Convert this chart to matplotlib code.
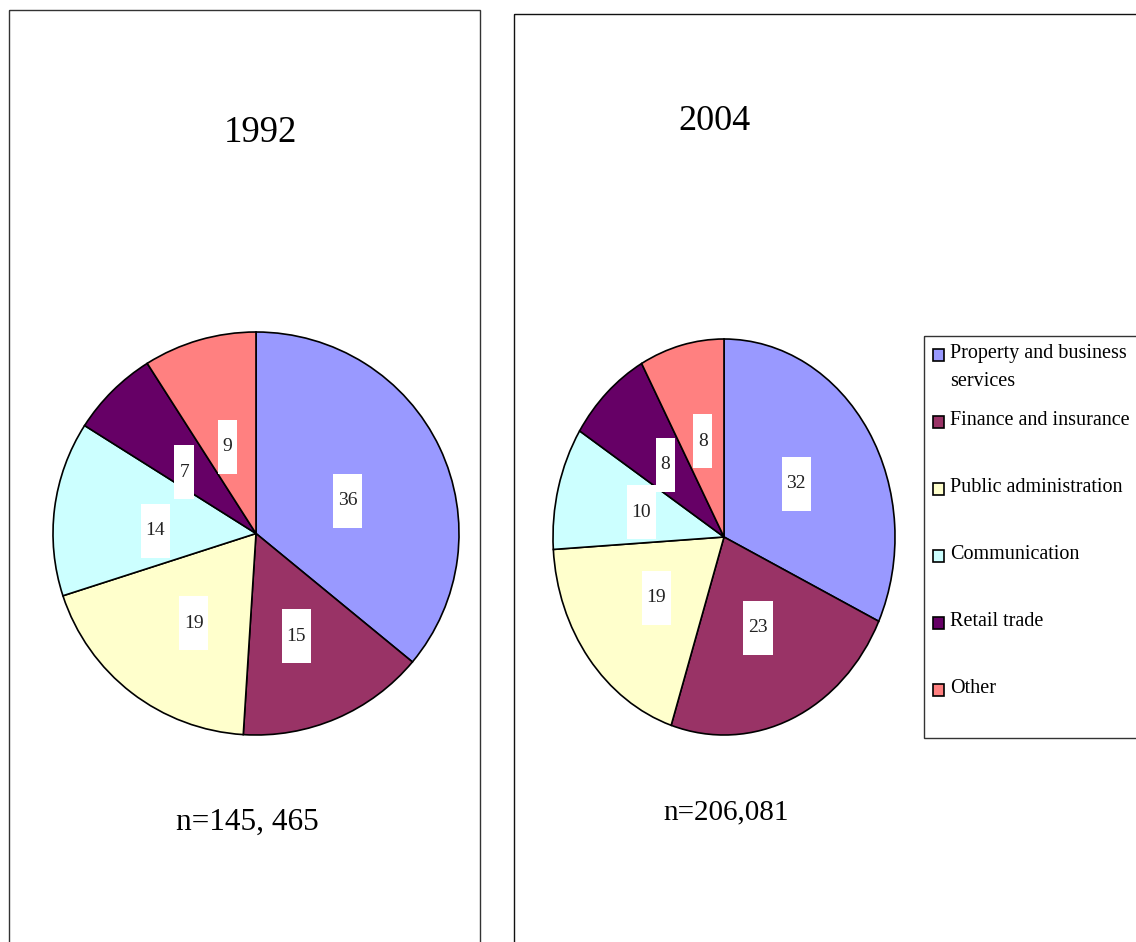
import numpy as np
import matplotlib
matplotlib.use("Agg")
import matplotlib.pyplot as plt
from matplotlib.patches import Rectangle

plt.rcParams['font.family'] = ['Liberation Serif', 'DejaVu Serif']

# data
categories = ["Property and business\nservices", "Finance and insurance",
              "Public administration", "Communication", "Retail trade", "Other"]
colors = ["#9999FF", "#993366", "#FFFFCC", "#CCFFFF", "#660066", "#FF8080"]
share_1992 = [36, 15, 19, 14, 7, 9]
share_2004 = [32, 23, 19, 10, 8, 8]
years = ["1992", "2004"]
totals = ["n=145, 465", "n=206,081"]

W, H = 1136, 942
fig = plt.figure(figsize=(W / 100, H / 100), dpi=100)

# background axes in pixel coordinates
bg = fig.add_axes([0, 0, 1, 1])
bg.set_xlim(0, W)
bg.set_ylim(H, 0)
bg.axis("off")

# panel frames
bg.add_patch(Rectangle((9, 10), 471, 960, fill=False, edgecolor="#333333", lw=1))
bg.add_patch(Rectangle((514, 14), 700, 960, fill=False, edgecolor="#111111", lw=1))


def pie_axes(x0, x1, y0, y1):
    return fig.add_axes([x0 / W, (H - y1) / H, (x1 - x0) / W, (y1 - y0) / H])


def draw_pie(ax, values, dy=0.0):
    wedges, _ = ax.pie(values, colors=colors, startangle=90, counterclock=False,
                       radius=1, wedgeprops=dict(edgecolor="black", linewidth=1.2))
    ax.set_aspect("auto")
    ax.set_xlim(-1, 1)
    ax.set_ylim(-1, 1)
    ax.axis("off")
    for w, v in zip(wedges, values):
        w.set_clip_on(False)
        ang = np.deg2rad((w.theta1 + w.theta2) / 2)
        ax.text(0.5 * np.cos(ang), 0.5 * np.sin(ang) + dy, "\n%d\n" % v,
                ha="center", va="center", fontsize=14, linespacing=0.75,
                color="#222222",
                bbox=dict(boxstyle="square,pad=0.25", facecolor="white", edgecolor="none"))


ax1 = pie_axes(53, 459, 332, 735)
draw_pie(ax1, share_1992, dy=-0.05)
ax2 = pie_axes(553, 895, 339, 735)
draw_pie(ax2, share_2004)

# titles and totals
bg.text(260, 133, years[0], ha="center", va="center", fontsize=26.5)
bg.text(715, 121, years[1], ha="center", va="center", fontsize=26)
bg.text(247, 822, totals[0], ha="center", va="center", fontsize=22.5)
bg.text(726, 812, totals[1], ha="center", va="center", fontsize=21)

# legend
bg.add_patch(Rectangle((924, 336), 260, 402, fill=False, edgecolor="#333333", lw=1))
for i, (lab, c) in enumerate(zip(categories, colors)):
    y = 355 + i * 67
    bg.add_patch(Rectangle((933, y - 6), 11, 12, facecolor=c, edgecolor="black", lw=1.2))
    bg.text(950, y - 11, lab, ha="left", va="top", fontsize=14.5, linespacing=1.65)

fig.savefig("out.png", dpi=100)
